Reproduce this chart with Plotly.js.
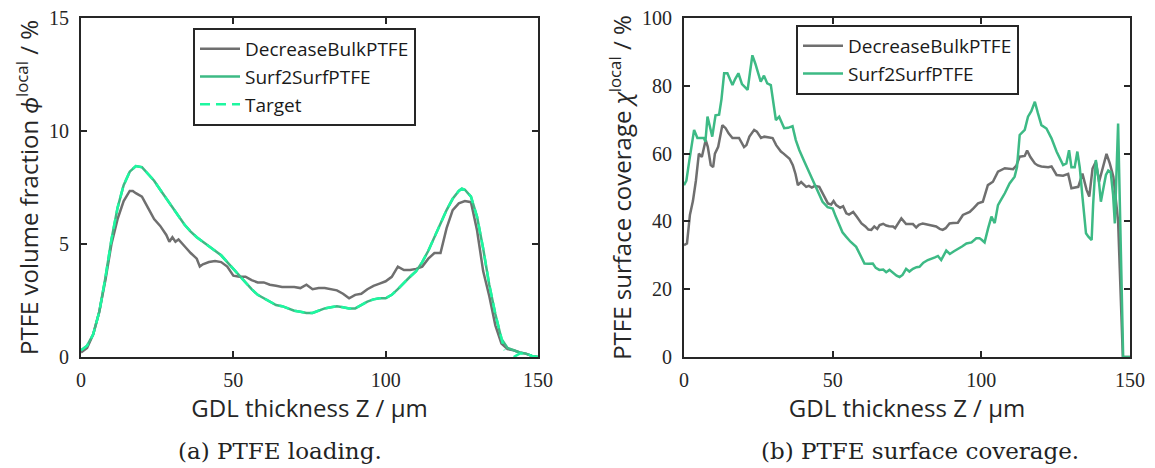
<!DOCTYPE html>
<html>
<head>
<meta charset="utf-8">
<script src="https://cdn.plot.ly/plotly-3.0.1.min.js"></script>
<style>html,body{margin:0;padding:0;background:#fff;}#chart{width:1155px;height:468px;}</style>
</head>
<body>
<div id="chart"></div>
<script>
// ---- (a) PTFE loading ----
const aBulkX = [0,2,4,6,8,10,12,14,16,17,18,20,22,24,26,28,29,30,31,32,34,36,38,39,40,42,44,46,48,50,52,54,56,58,60,62,64,66,68,70,72,74,76,78,80,82,84,86,88,90,92,94,96,98,100,102,104,106,108,110,112,114,116,118,120,122,124,126,128,130,132,134,136,138,140,142,144,146,148,150];
const aBulkY = [0.2,0.4,1.0,2.0,3.4,5.0,6.1,6.9,7.35,7.35,7.25,7.1,6.6,6.1,5.8,5.4,5.1,5.3,5.1,5.2,4.9,4.6,4.35,4.0,4.1,4.2,4.25,4.2,4.0,3.6,3.55,3.55,3.4,3.3,3.3,3.2,3.15,3.1,3.1,3.1,3.05,3.2,3.0,3.05,3.05,3.0,2.95,2.8,2.6,2.75,2.8,3.0,3.15,3.25,3.35,3.55,4.0,3.85,3.85,3.9,4.0,4.35,4.6,4.6,5.7,6.5,6.8,6.9,6.85,5.6,3.8,2.7,1.4,0.6,0.35,0.3,0.2,0.15,0.05,0.0];

const aS2SX = [0,2,4,6,8,10,12,14,16,18,20,22,24,26,28,30,32,34,36,38,40,42,44,46,48,50,52,54,56,58,60,62,64,66,68,70,72,74,76,78,80,82,84,86,88,90,92,94,96,98,100,102,104,106,108,110,112,114,116,118,120,122,124,125,126,128,130,132,134,136,138,140,142,144,146,148,150];
const aS2SY = [0.3,0.5,1.0,2.0,3.5,5.2,6.6,7.6,8.2,8.45,8.4,8.1,7.8,7.4,7.0,6.6,6.2,5.85,5.55,5.3,5.1,4.9,4.7,4.5,4.2,3.9,3.6,3.3,3.0,2.75,2.6,2.45,2.3,2.25,2.15,2.05,2.0,1.95,1.95,2.05,2.15,2.2,2.25,2.2,2.15,2.15,2.3,2.45,2.55,2.6,2.6,2.75,3.0,3.3,3.55,3.8,4.2,4.7,5.3,5.9,6.5,7.0,7.35,7.45,7.4,7.1,6.2,4.8,3.2,1.9,0.8,0.4,0.3,0.2,0.15,0.05,0.0];

const aTargetX = [0,2,4,6,8,10,12,14,16,18,20,22,24,26,28,30,32,34,36,38,40,42,44,46,48,50,52,54,56,58,60,62,64,66,68,70,72,74,76,78,80,82,84,86,88,90,92,94,96,98,100,102,104,106,108,110,112,114,116,118,120,122,124,125,126,128,130,132,134,136,138,139,141,142,144,146,148,150];
const aTargetY = [0.3,0.5,1.0,2.0,3.5,5.2,6.6,7.6,8.2,8.45,8.4,8.1,7.8,7.4,7.0,6.6,6.2,5.85,5.55,5.3,5.1,4.9,4.7,4.5,4.2,3.9,3.6,3.3,3.0,2.75,2.6,2.45,2.3,2.25,2.15,2.05,2.0,1.95,1.95,2.05,2.15,2.2,2.25,2.2,2.15,2.15,2.3,2.45,2.55,2.6,2.6,2.75,3.0,3.3,3.55,3.8,4.2,4.7,5.3,5.9,6.5,7.0,7.35,7.45,7.4,7.1,6.2,4.8,3.2,1.9,0.8,0.3,null,0.0,0.15,0.15,0.05,0.0];

// ---- (b) PTFE surface coverage ----
const bBulkX = [0,1,2,3,4,4.5,5,6,7.3,8,9,9.8,10.4,11.5,12.9,14,15,16.3,17.5,18.5,20.2,21,22,23.6,24.5,25.9,27,28.5,29.8,31,32.6,33.5,34.8,35.5,36.6,37.5,38.3,39.4,41.1,42,43,44,45.5,46.5,47.5,48.4,49.5,50.3,51.2,52.5,53.5,54.6,55.5,56.9,58,59.7,61,62,63,64,65,65.8,67,68,69,70.3,71,72,73.1,74.7,76,77,78.1,79,80.3,81.5,82.6,84,84.8,86,87,88,89.3,90.5,92.1,93.8,95,96.1,97.5,98.9,100.5,101.3,102.2,103.9,104.8,105.6,107.9,109.5,110.7,111.8,112.9,114.6,115.4,116.5,118,119,120.2,122.5,123.6,125.3,127.5,129.2,130.3,132.6,134,135.4,136.3,137.4,138.5,139.6,141,142.1,143.2,144.4,145.5,146,147.6,150];
const bBulkY = [33,33.5,42,46,52,57,60,59,64,62,56.6,56,60,62,68.4,67.5,66,64.6,64.5,64.6,61.9,62.5,65,67,66.5,64.6,65,64.8,64.6,62.5,60.6,60,59,58.5,56.6,54,50.7,51.6,50.2,50.5,50,50.5,50.2,48.5,47,45.3,45,46,44.8,44,44.5,42.4,42,42.8,41.5,39.4,38.5,37.6,37.5,38.5,37.8,38.9,39.3,38.8,38.6,38.5,38,39.5,40.9,39.2,39.2,39.2,38.2,39,39.4,39.2,38.9,38.6,38.5,37.8,37.5,38,39.4,39.5,39.6,41.9,42.3,42.8,44,45.3,45.8,48,50.7,51.7,53.5,54.7,55.7,55.6,55.4,56.5,59.1,59.3,60.9,59,57.1,56.5,56.2,56,56.2,53.7,53.5,54,49.8,50.2,54.1,49.3,47.3,55.6,57.6,51.7,56.2,59.9,57.1,53.2,44.3,40,0,0];

const bS2SX = [0,0.8,1.8,2.6,3.4,4.5,5.5,6.7,7.2,7.9,8.7,9.5,10.6,11.8,12.6,13.5,14.6,15.5,16.3,17.2,18.3,19.5,20.5,21.4,22.2,23,24,24.9,25.8,26.9,28,29.2,30.2,30.9,32,33.7,35,36.5,37.6,38.8,40.5,41.8,43.2,45,46.6,48.3,50,51,52.2,53.3,54.5,56,57.9,59.3,60.7,62,63.5,64.5,65.7,67,68,69.1,70.5,71.5,72.5,73.5,74.7,75.8,77,78.2,79.2,80.5,82,83.5,84.4,85.4,86.5,88.2,89.4,90.8,92.1,93.5,95,96.7,98.3,99.4,100.2,101.1,102.3,103.4,104.5,105.6,106.7,107.9,109.5,111.2,112,112.9,114.6,115.7,116.8,118,119,120.2,121.9,123.6,125.3,126.5,127.5,128.6,129.5,130.3,131.4,132.3,133.1,134,135.2,136,137.1,137.6,138.5,139.5,140.2,141.1,141.9,142.7,143.5,144.3,144.9,146,147.7,150];
const bS2SY = [50.7,52,58,63,67,64.6,64.5,64.6,63.5,70.9,68,65,71.3,71.5,76,83.7,83.7,82,80.2,82,83.7,80.5,79.5,78.8,84,89,86.5,83.5,81.2,83,80.7,80.2,74,69.9,70.9,67.5,67.6,68.1,64,61,57.6,55,52.2,49,45.8,44.2,43.8,41.5,38.9,36.8,35.5,34,32.5,30,27.6,27.5,27.6,26.3,25.7,25.8,25,25.7,24.6,24,23.6,24.2,26,25.2,26,26.5,26.6,27.8,28.6,29,29.4,29.8,28.6,31.4,30.4,31.2,32,32.6,33.5,33.8,35,35,34.5,33.8,38,41.4,39.5,44.8,46.5,48.3,51.2,53.2,56,65.5,67,70.9,72.5,75.3,72,68.4,67.4,64.5,60.6,58.5,56.6,57.1,61,56,56,60.6,55.9,47.3,36.5,35.5,34.5,45,58.1,52.2,45.8,50,53.7,55,54.6,48,39.4,68.9,0,0];

const tickFont = {family: 'Liberation Serif, DejaVu Serif, serif', size: 20, color: '#262626'};
const titleFont = {family: 'Open Sans, Lato, sans-serif', size: 24, color: '#262626'};
const legFont = {family: 'Open Sans, Lato, sans-serif', size: 19, color: '#1a1a1a'};
const capFont = {family: 'DejaVu Serif, Liberation Serif, serif', size: 23, color: '#222'};

const grey = '#6f6f6f';
const green = '#3dba85';
const target = '#1ef7a0';

const traces = [
  {x: aBulkX, y: aBulkY, xaxis: 'x', yaxis: 'y', mode: 'lines', name: 'DecreaseBulkPTFE', line: {color: grey, width: 2.5}, legend: 'legend'},
  {x: aS2SX, y: aS2SY, xaxis: 'x', yaxis: 'y', mode: 'lines', name: 'Surf2SurfPTFE', line: {color: green, width: 2.5}, legend: 'legend'},
  {x: aTargetX, y: aTargetY, xaxis: 'x', yaxis: 'y', mode: 'lines', name: 'Target', line: {color: target, width: 2.5, dash: '10px,6px'}, legend: 'legend', connectgaps: false},
  {x: bBulkX, y: bBulkY, xaxis: 'x2', yaxis: 'y2', mode: 'lines', name: 'DecreaseBulkPTFE', line: {color: grey, width: 2.5}, legend: 'legend2'},
  {x: bS2SX, y: bS2SY, xaxis: 'x2', yaxis: 'y2', mode: 'lines', name: 'Surf2SurfPTFE', line: {color: green, width: 2.5}, legend: 'legend2'}
];

const axBase = {
  showgrid: false, zeroline: false, showline: true, linecolor: '#262626', linewidth: 2,
  mirror: 'ticks', ticks: 'inside', ticklen: 6, tickwidth: 2, tickcolor: '#262626',
  tickfont: tickFont
};
const xExtra = {ticklabelstandoff: 4};
const yExtra = {ticklabelstandoff: 6};

const layout = {
  width: 1155, height: 468,
  margin: {l: 0, r: 0, t: 0, b: 0},
  paper_bgcolor: '#fff', plot_bgcolor: '#fff',
  showlegend: true,
  xaxis: Object.assign({}, axBase, xExtra, {domain: [81/1155, 538/1155], range: [0, 150], tickvals: [0, 50, 100, 150], anchor: 'y',
    title: {text: 'GDL thickness Z / µm', font: titleFont, standoff: 4}}),
  yaxis: Object.assign({}, axBase, yExtra, {domain: [1 - 357/468, 1 - 18/468], range: [0, 15], tickvals: [0, 5, 10, 15], anchor: 'x',
    title: {text: 'PTFE volume fraction <i>ϕ</i><sup>local</sup> / %', font: titleFont, standoff: 4}}),
  xaxis2: Object.assign({}, axBase, xExtra, {domain: [684/1155, 1130/1155], range: [0, 150], tickvals: [0, 50, 100, 150], anchor: 'y2',
    title: {text: 'GDL thickness Z / µm', font: titleFont, standoff: 4}}),
  yaxis2: Object.assign({}, axBase, yExtra, {domain: [1 - 357/468, 1 - 18/468], range: [0, 100], tickvals: [0, 20, 40, 60, 80, 100], anchor: 'x2',
    title: {text: 'PTFE surface coverage <i>χ</i><sup>local</sup> / %', font: titleFont, standoff: 4}}),
  legend: {x: 193/1155, y: 1 - 28/468, xanchor: 'left', yanchor: 'top', bgcolor: '#fff', bordercolor: '#262626', borderwidth: 2,
    font: legFont, tracegroupgap: 0, itemwidth: 40},
  legend2: {x: 796/1155, y: 1 - 25/468, xanchor: 'left', yanchor: 'top', bgcolor: '#fff', bordercolor: '#262626', borderwidth: 2,
    font: legFont, tracegroupgap: 0, itemwidth: 40},
  annotations: [
    {text: '(a) PTFE loading.', xref: 'paper', yref: 'paper', x: 280/1155, y: 1 - 451/468, xanchor: 'center', yanchor: 'middle', showarrow: false, font: capFont},
    {text: '(b) PTFE surface coverage.', xref: 'paper', yref: 'paper', x: 920/1155, y: 1 - 451/468, xanchor: 'center', yanchor: 'middle', showarrow: false, font: capFont}
  ]
};

Plotly.newPlot('chart', traces, layout, {displayModeBar: false, staticPlot: true});
</script>
</body>
</html>
